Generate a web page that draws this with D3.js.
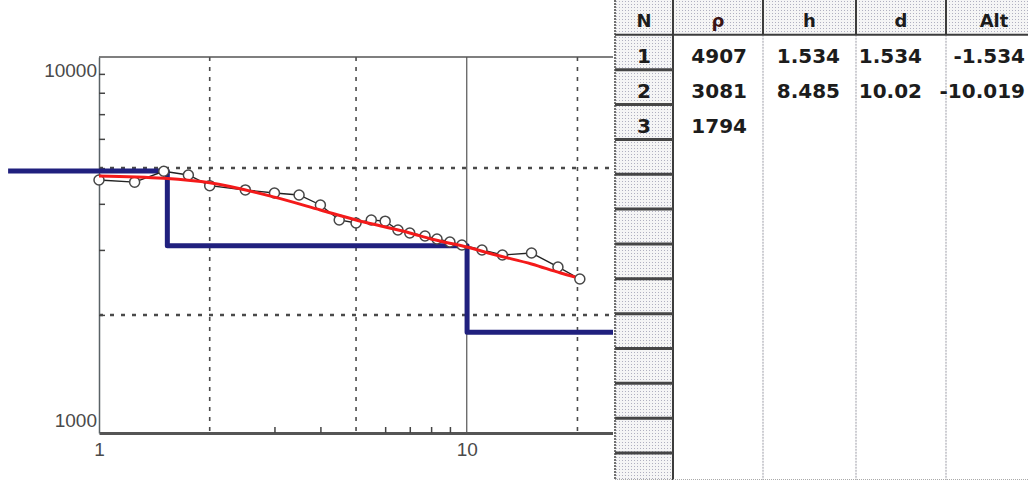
<!DOCTYPE html>
<html><head><meta charset="utf-8">
<script src="https://cdn.jsdelivr.net/npm/d3@7"></script>
<style>html,body{margin:0;padding:0;background:#fff;overflow:hidden}</style>
</head><body><svg id="c" width="1028" height="480"></svg>
<script>
// ---------- data ----------
const abHalf      = [1, 1.25, 1.5, 1.75, 2, 2.5, 3, 3.5, 4, 4.5, 5, 5.5, 6, 6.5, 7, 7.7, 8.3, 9, 9.7, 11, 12.5, 15, 17.7, 20.3];
const rhoApparent = [4642, 4580, 4900, 4790, 4480, 4362, 4280, 4227, 3971, 3617, 3549, 3617, 3590, 3398, 3335, 3272, 3211, 3152, 3094, 2999, 2906, 2943, 2697, 2502];
const fitX   = [1, 1.5, 2, 3, 4, 5, 6, 7, 8, 10, 12, 15, 18, 19.7];
const fitRho = [4760, 4690, 4560, 4170, 3850, 3617, 3462, 3335, 3211, 3056, 2906, 2748, 2598, 2534];
const layerN   = [1, 2, 3];
const layerRho = [4907, 3081, 1794];
const layerH   = [1.534, 8.485];
const layerD   = [1.534, 10.02];
const layerAlt = [-1.534, -10.019];
const modelExtent = [0.566, 30];
const tableHeaders = ["N", "ρ", "h", "d", "Alt"];
const xTickLabels = [1, 10];
const yTickLabels = [1000, 10000];
const xGridDashed = [2, 5, 20];
const xGridSolid  = [10];
const yGridDashed = [2000, 5000];
const xMinor = [3, 4, 6, 7, 8, 9];
const yMinor = [2000, 3000, 4000, 5000, 6000, 7000, 8000, 9000];
const xDomain = [1, 25.3];
const yDomain = [957, 10000];

// ---------- layout ----------
const W = 1028, H = 480;
const plot = {left: 99, right: 615, top: 57, bottom: 433};
const svg = d3.select("#c");
const x = d3.scaleLog().domain(xDomain).range([plot.left, plot.right]);
const y = d3.scaleLog().domain(yDomain).range([plot.bottom, plot.top]);

svg.append("rect").attr("width", W).attr("height", H).attr("fill", "#fff");

// grid
const grid = svg.append("g");
grid.selectAll(".vd").data(xGridDashed).join("line")
  .attr("x1", d => x(d)).attr("x2", d => x(d)).attr("y1", plot.top).attr("y2", plot.bottom)
  .attr("stroke", "#4a4a4a").attr("stroke-width", 1.6).attr("stroke-dasharray", "4,6");
grid.selectAll(".vs").data(xGridSolid).join("line")
  .attr("x1", d => x(d)).attr("x2", d => x(d)).attr("y1", plot.top).attr("y2", plot.bottom)
  .attr("stroke", "#555").attr("stroke-width", 1.2);
grid.selectAll(".hd").data(yGridDashed).join("line")
  .attr("x1", plot.left).attr("x2", plot.right).attr("y1", d => y(d)).attr("y2", d => y(d))
  .attr("stroke", "#4a4a4a").attr("stroke-width", 2.5).attr("stroke-dasharray", "4,7");
// top frame
svg.append("line").attr("x1", plot.left).attr("x2", plot.right).attr("y1", plot.top).attr("y2", plot.top)
  .attr("stroke", "#555").attr("stroke-width", 1.5);

// axes
const axisFont = "'Liberation Sans', Arial, sans-serif";
const gx = svg.append("g").attr("transform", `translate(0,${plot.bottom})`)
  .call(d3.axisBottom(x).tickValues(xTickLabels).tickFormat(d3.format("d")).tickSize(0).tickSizeOuter(0).tickPadding(10));
gx.select(".domain").attr("stroke", "#555").attr("stroke-width", 3);
gx.selectAll("text").attr("font-family", axisFont).attr("font-size", 19).attr("fill", "#4a4a4a");

const gxm = svg.append("g").attr("transform", `translate(0,${plot.bottom})`)
  .call(d3.axisBottom(x).tickValues(xMinor).tickFormat("").tickSize(-6).tickSizeOuter(0));
gxm.select(".domain").remove();
gxm.selectAll("line").attr("stroke", "#444").attr("stroke-width", 1.5);

const gy = svg.append("g").attr("transform", `translate(${plot.left},0)`)
  .call(d3.axisLeft(y).tickValues(yTickLabels).tickFormat(d3.format("d")).tickSize(0).tickSizeOuter(0).tickPadding(2));
gy.select(".domain").attr("stroke", "#5a6266").attr("stroke-width", 1.5);
gy.selectAll("text").attr("font-family", axisFont).attr("font-size", 19).attr("fill", "#4a4a4a")
  .attr("dy", d => d === yDomain[1] ? "1.05em" : "0.05em");

const gym = svg.append("g").attr("transform", `translate(${plot.left},0)`)
  .call(d3.axisLeft(y).tickValues(yMinor).tickFormat("").tickSize(-6).tickSizeOuter(0));
gym.select(".domain").remove();
gym.selectAll("line").attr("stroke", "#444").attr("stroke-width", 1.5);

// model (layered) step line
const stepPts = [];
const bounds = [modelExtent[0], ...layerD, modelExtent[1]];
layerRho.forEach((r, i) => { stepPts.push([bounds[i], r]); stepPts.push([bounds[i + 1], r]); });
svg.append("path").datum(stepPts)
  .attr("d", d3.line().x(d => x(d[0])).y(d => y(d[1])))
  .attr("fill", "none").attr("stroke", "#20207e").attr("stroke-width", 5).attr("stroke-linejoin", "round");

// observed data
const obs = abHalf.map((a, i) => [a, rhoApparent[i]]);
svg.append("path").datum(obs)
  .attr("d", d3.line().x(d => x(d[0])).y(d => y(d[1])))
  .attr("fill", "none").attr("stroke", "#222").attr("stroke-width", 1.4);
svg.selectAll(".pt").data(obs).join("circle")
  .attr("cx", d => x(d[0])).attr("cy", d => y(d[1])).attr("r", 5)
  .attr("fill", "#fff").attr("stroke", "#474747").attr("stroke-width", 1.5);

// fitted curve
const fit = fitX.map((a, i) => [a, fitRho[i]]);
svg.append("path").datum(fit)
  .attr("d", d3.line().curve(d3.curveMonotoneX).x(d => x(d[0])).y(d => y(d[1])))
  .attr("fill", "none").attr("stroke", "#f41a1a").attr("stroke-width", 3);

// ---------- table ----------
const colW = [58, 90, 93, 90, 96];
const textPad = [16, 16, 24, 17];
const tLeft = 615;
const colX = [tLeft];
colW.forEach(w => colX.push(colX[colX.length - 1] + w));
const rowH = 34.85;
const nRows = Math.ceil(H / rowH);

const defs = svg.append("defs");
const pat = defs.append("pattern").attr("id", "dots").attr("width", 3).attr("height", 3)
  .attr("patternUnits", "userSpaceOnUse");
pat.append("rect").attr("width", 3).attr("height", 3).attr("fill", "#f5f5f5");
pat.append("rect").attr("x", 1).attr("y", 1).attr("width", 1).attr("height", 1).attr("fill", "#b0b0c0");

const tbl = svg.append("g");
tbl.append("rect").attr("x", tLeft - 2).attr("y", 0).attr("width", W - tLeft + 2).attr("height", H).attr("fill", "#fff");

// header cells
tbl.selectAll(".hc").data(tableHeaders).join("rect")
  .attr("x", (d, i) => colX[i]).attr("y", 0).attr("width", (d, i) => colW[i]).attr("height", rowH)
  .attr("fill", "url(#dots)");
// N column cells
tbl.append("rect").attr("x", colX[0]).attr("y", rowH).attr("width", colW[0]).attr("height", H - rowH)
  .attr("fill", "url(#dots)");

// body dotted column separators
tbl.selectAll(".bs").data(colX.slice(2, 5)).join("line")
  .attr("x1", d => d).attr("x2", d => d).attr("y1", rowH).attr("y2", H)
  .attr("stroke", "#bdbdc4").attr("stroke-width", 1.5).attr("stroke-dasharray", "2,1");
// header separators
tbl.selectAll(".hs").data(colX.slice(1, 5)).join("line")
  .attr("x1", d => d).attr("x2", d => d).attr("y1", 0).attr("y2", rowH)
  .attr("stroke", "#3c3c3c").attr("stroke-width", 2);
// N column right border
tbl.append("line").attr("x1", colX[1]).attr("x2", colX[1]).attr("y1", 0).attr("y2", H)
  .attr("stroke", "#3c3c3c").attr("stroke-width", 2);
// left border
tbl.append("line").attr("x1", tLeft).attr("x2", tLeft).attr("y1", 0).attr("y2", H)
  .attr("stroke", "#444").attr("stroke-width", 1.5).attr("stroke-dasharray", "2,1");
// header bottom
tbl.append("line").attr("x1", tLeft).attr("x2", W).attr("y1", rowH).attr("y2", rowH)
  .attr("stroke", "#3c3c3c").attr("stroke-width", 2);
// N column row separators
tbl.selectAll(".rs").data(d3.range(2, nRows + 1)).join("line")
  .attr("x1", tLeft).attr("x2", colX[1]).attr("y1", d => d * rowH).attr("y2", d => d * rowH)
  .attr("stroke", "#464646").attr("stroke-width", 3);
// bottom dotted
tbl.append("line").attr("x1", tLeft).attr("x2", W).attr("y1", H - 0.5).attr("y2", H - 0.5)
  .attr("stroke", "#aaa").attr("stroke-width", 1).attr("stroke-dasharray", "1,1");

const tFont = "'DejaVu Sans', sans-serif";
tbl.selectAll(".ht").data(tableHeaders).join("text")
  .attr("x", (d, i) => colX[i] + colW[i] / 2).attr("y", 27)
  .attr("text-anchor", "middle").attr("font-family", tFont).attr("font-weight", "bold")
  .attr("font-size", 18).attr("fill", (d, i) => i === 1 ? "#3a1414" : "#1c1c1c").text(d => d);

tbl.selectAll(".nt").data(layerN).join("text")
  .attr("x", colX[0] + colW[0] / 2).attr("y", (d, i) => (i + 1) * rowH + 28)
  .attr("text-anchor", "middle").attr("font-family", tFont).attr("font-weight", "bold")
  .attr("font-size", 20).attr("fill", "#1c1c1c").text(d => d);

const cols = [layerRho, layerH, layerD, layerAlt];
cols.forEach((arr, c) => {
  tbl.selectAll(".c" + c).data(arr).join("text")
    .attr("x", colX[c + 2] - textPad[c]).attr("y", (d, i) => (i + 1) * rowH + 28)
    .attr("text-anchor", "end").attr("font-family", tFont).attr("font-weight", "bold")
    .attr("font-size", 20).attr("fill", "#1c1c1c").text(d => String(d));
});
</script></body></html>
